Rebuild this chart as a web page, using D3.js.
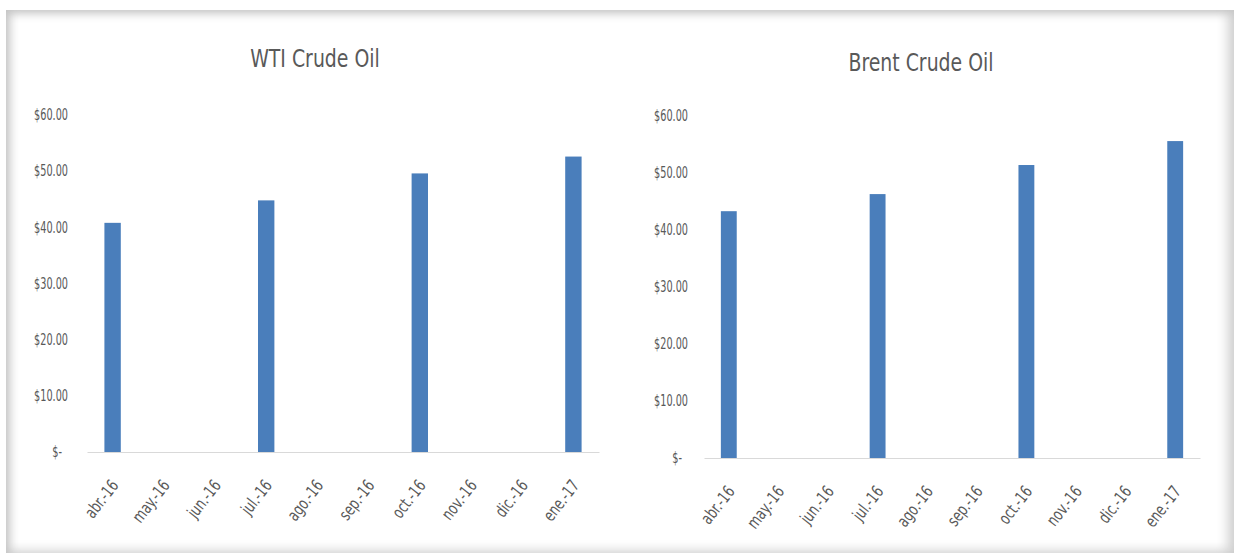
<!DOCTYPE html>
<html><head><meta charset="utf-8">
<script src="https://cdn.jsdelivr.net/npm/d3@7"></script>
<style>
html,body{margin:0;padding:0;background:#fff;}
#frame{position:absolute;left:6px;top:10px;width:1228px;height:543px;background:#fff;
 box-shadow: inset 10px 0 10px -6px #c4c4c4, inset 0 9px 8px -5px #c8c8c8, inset -14px 0 12px -8px #cfcfcf, inset 0 -12px 10px -8px #dcdcdc;}
svg{position:absolute;left:0;top:0;}
</style></head>
<body>
<div id="frame"></div>
<svg id="chart" width="1234" height="553"></svg>
<script>
const categories = ["abr.-16","may.-16","jun.-16","jul.-16","ago.-16","sep.-16","oct.-16","nov.-16","dic.-16","ene.-17"];
const wtiValues   = [40.8, null, null, 44.8, null, null, 49.6, null, null, 52.6];
const brentValues = [43.3, null, null, 46.3, null, null, 51.4, null, null, 55.6];
const yTicks = [0, 10, 20, 30, 40, 50, 60];
const titles = ["WTI Crude Oil", "Brent Crude Oil"];

const FONT = "'DejaVu Sans Condensed','Liberation Sans Narrow','Open Sans',sans-serif";
const svg = d3.select("#chart");

const panels = [
  {title: titles[0], values: wtiValues, x0: 87, x1: 599, yTop: 115, yBase: 452, labelRight: 68, titleX: 315, titleY: 67},
  {title: titles[1], values: brentValues, x0: 704, x1: 1200, yTop: 116, yBase: 458, labelRight: 688, titleX: 921, titleY: 71}
];
const SX = 0.72;

panels.forEach(p => {
  const g = svg.append("g");
  const x = d3.scaleBand().domain(categories).range([p.x0, p.x1]).paddingInner(0.68).paddingOuter(0.34);
  const y = d3.scaleLinear().domain([0, 60]).range([p.yBase, p.yTop]);

  g.append("text").attr("transform", `translate(${p.titleX},${p.titleY}) scale(0.84,1)`)
    .attr("text-anchor", "middle")
    .attr("font-family", FONT).attr("font-size", 25).attr("fill", "#595959").text(p.title);

  // y labels
  g.selectAll(".yl").data(yTicks).enter().append("text")
    .attr("transform", d => `translate(${d === 0 ? p.labelRight - 6 : p.labelRight},${y(d)}) scale(${SX},1)`)
    .attr("dy", "0.35em").attr("text-anchor", "end")
    .attr("font-family", FONT).attr("font-size", 15).attr("fill", "#595959")
    .text(d => d === 0 ? "$-" : "$" + d3.format(".2f")(d));

  // bars
  const data = categories.map((c, i) => ({c, v: p.values[i]})).filter(d => d.v != null);
  g.selectAll(".bar").data(data).enter().append("rect")
    .attr("x", d => x(d.c)).attr("width", x.bandwidth())
    .attr("y", d => y(d.v)).attr("height", d => y(0) - y(d.v))
    .attr("fill", "#4a7ebb");

  // x axis
  const axis = g.append("g").attr("transform", `translate(0,${p.yBase})`)
    .call(d3.axisBottom(x).tickSize(0).tickFormat(""));
  axis.select(".domain").attr("stroke", "#d9d9d9").attr("stroke-width", 1);

  g.selectAll(".xl").data(categories).enter().append("text")
    .attr("transform", d => `translate(${x(d) + x.bandwidth()/2 + 2},${p.yBase + 30}) rotate(-52) scale(0.8,1)`)
    .attr("text-anchor", "end").attr("dy", "0.35em")
    .attr("font-family", FONT).attr("font-size", 17).attr("fill", "#595959")
    .text(d => d);
});
</script>
</body></html>
